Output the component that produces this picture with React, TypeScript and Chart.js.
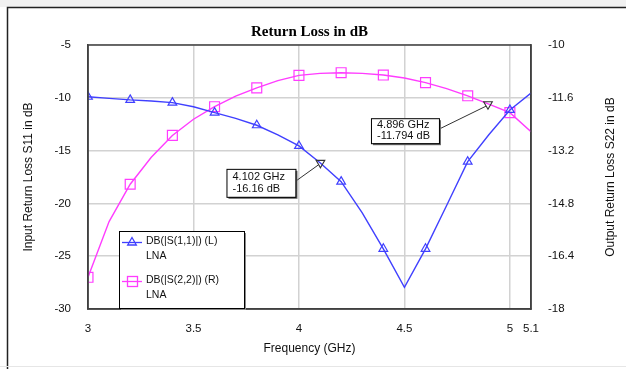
import React, { useEffect, useRef } from "react";
import { Chart, registerables } from "chart.js";

Chart.register(...registerables);

// ---------------- data ----------------
const freqGHz = [3.0, 3.1, 3.2, 3.3, 3.4, 3.5, 3.6, 3.7, 3.8, 3.9, 4.0, 4.1, 4.2, 4.3, 4.4, 4.5, 4.6, 4.7, 4.8, 4.9, 5.0, 5.1];
const s11dB = [-9.9, -10.05, -10.2, -10.3, -10.46, -10.85, -11.4, -11.95, -12.6, -13.5, -14.56, -16.15, -17.94, -20.9, -24.3, -27.95, -24.3, -20.2, -16.05, -13.5, -11.15, -9.55];
const s22dB = [-17.04, -15.35, -14.22, -13.4, -12.74, -12.25, -11.87, -11.55, -11.3, -11.08, -10.92, -10.86, -10.84, -10.86, -10.91, -11.0, -11.14, -11.32, -11.54, -11.79, -12.05, -12.63];
const xTickValues = [3, 3.5, 4, 4.5, 5, 5.1];
const leftTickValues = [-30, -25, -20, -15, -10, -5];
const rightTickValues = [-18, -16.4, -14.8, -13.2, -11.6, -10];
const seriesNames = ["DB(|S(1,1)|) (L)", "DB(|S(2,2)|) (R)"];
const seriesSub = ["LNA", "LNA"];
const markerFreqs = [4.102, 4.896];
const markerValues = [-16.16, -11.794];
const markerAxes = ["yL", "yR"];
const markerLabels = [["4.102 GHz", "-16.16 dB"], ["4.896 GHz", "-11.794 dB"]];

const titleText = "Return Loss in dB";
const xTitle = "Frequency (GHz)";
const yLeftTitle = "Input Return Loss S11 in dB";
const yRightTitle = "Output Return Loss S22 in dB";

// ---------------- styles ----------------
const BLUE = "#4040ff";
const MAGENTA = "#ff3cff";
const GRID = "#d2d2d2";
const FRAME = "#404040";
const SANS = '"Liberation Sans", Arial, sans-serif';
const SERIF = '"Liberation Serif", "Times New Roman", serif';

// box layout relative to the marker point: dx, dy, w, h
const boxLayout = [
  [-94, 6, 69, 28],
  [-117, 14, 68, 25],
];

const isMarker = (f: number) => Math.round(f * 10) % 2 === 0 && f < 5.05;

function drawTri(ctx: CanvasRenderingContext2D, x: number, y: number, r: number, down: boolean) {
  const h = r * 1.5;
  const half = r * 0.866;
  ctx.beginPath();
  if (!down) {
    ctx.moveTo(x, y - r);
    ctx.lineTo(x + half, y - r + h);
    ctx.lineTo(x - half, y - r + h);
  } else {
    ctx.moveTo(x, y + r);
    ctx.lineTo(x + half, y + r - h);
    ctx.lineTo(x - half, y + r - h);
  }
  ctx.closePath();
  ctx.stroke();
}

const overlay = {
  id: "overlay",
  beforeDraw(chart: any) {
    const { ctx, width, height } = chart;
    ctx.save();
    ctx.fillStyle = "#ffffff";
    ctx.fillRect(0, 0, width, height);
    ctx.fillStyle = "#f1f1f1";
    ctx.fillRect(0, 0, width, 7);
    ctx.restore();
  },
  afterDraw(chart: any) {
    const { ctx, chartArea: a, scales, width, height } = chart;
    ctx.save();

    // outer frame
    ctx.strokeStyle = "#222";
    ctx.lineWidth = 1.5;
    ctx.beginPath();
    ctx.moveTo(7.5, height);
    ctx.lineTo(7.5, 7.5);
    ctx.lineTo(width, 7.5);
    ctx.stroke();
    ctx.strokeStyle = "#e6e6e6";
    ctx.lineWidth = 1;
    ctx.beginPath();
    ctx.moveTo(0, height - 2.5);
    ctx.lineTo(width, height - 2.5);
    ctx.stroke();

    // plot frame
    ctx.strokeStyle = FRAME;
    ctx.lineWidth = 1.5;
    ctx.strokeRect(a.left, a.top, a.right - a.left, a.bottom - a.top);

    // title
    ctx.fillStyle = "#000";
    ctx.font = `bold 15px ${SERIF}`;
    ctx.textAlign = "center";
    ctx.textBaseline = "middle";
    ctx.fillText(titleText, (a.left + a.right) / 2, 32);

    // axis titles
    ctx.font = `12px ${SANS}`;
    ctx.fillStyle = "#111";
    ctx.fillText(xTitle, (a.left + a.right) / 2, 349);
    const midY = (a.top + a.bottom) / 2;
    ctx.save();
    ctx.translate(28.5, midY);
    ctx.rotate(-Math.PI / 2);
    ctx.fillText(yLeftTitle, 0, 0);
    ctx.restore();
    ctx.save();
    ctx.translate(611, midY);
    ctx.rotate(-Math.PI / 2);
    ctx.fillText(yRightTitle, 0, 0);
    ctx.restore();

    // legend
    const lx = a.left + 31;
    const ly = a.top + 186;
    const lw = 125;
    const lh = 77;
    ctx.fillStyle = "#8a8a8a";
    ctx.fillRect(lx + 2, ly + 2, lw, lh);
    ctx.fillStyle = "#fff";
    ctx.fillRect(lx, ly, lw, lh);
    ctx.strokeStyle = "#000";
    ctx.lineWidth = 1;
    ctx.strokeRect(lx + 0.5, ly + 0.5, lw, lh);
    const rows = [11.5, 50.5];
    const colors = [BLUE, MAGENTA];
    rows.forEach((ry, i) => {
      const y = ly + ry;
      ctx.strokeStyle = colors[i];
      ctx.lineWidth = 1.3;
      ctx.beginPath();
      ctx.moveTo(lx + 3, y);
      ctx.lineTo(lx + 23, y);
      ctx.stroke();
      if (i === 0) {
        drawTri(ctx, lx + 13, y, 5, false);
      } else {
        ctx.strokeRect(lx + 8.5, y - 5, 10, 10);
      }
      ctx.fillStyle = "#111";
      ctx.font = `10.5px ${SANS}`;
      ctx.textAlign = "left";
      ctx.textBaseline = "middle";
      ctx.fillText(seriesNames[i], lx + 27, y - 1);
      ctx.fillText(seriesSub[i], lx + 27, y + 14);
    });

    // marker annotations
    markerFreqs.forEach((f, i) => {
      const px = scales.x.getPixelForValue(f);
      const py = scales[markerAxes[i]].getPixelForValue(markerValues[i]);
      const [dx, dy, w, h] = boxLayout[i];
      const bx = px + dx;
      const by = py + dy;
      // connector
      ctx.strokeStyle = "#333";
      ctx.lineWidth = 1;
      ctx.beginPath();
      ctx.moveTo(bx + w + 1, by + h * 0.42);
      ctx.lineTo(px - 2, py + 2);
      ctx.stroke();
      // marker
      ctx.strokeStyle = "#333";
      ctx.lineWidth = 1.1;
      drawTri(ctx, px, py, 5, true);
      // box
      ctx.fillStyle = "#6a6a6a";
      ctx.fillRect(bx + 2, by + 2, w, h);
      ctx.fillStyle = "#fff";
      ctx.fillRect(bx, by, w, h);
      ctx.strokeStyle = "#000";
      ctx.lineWidth = 1;
      ctx.strokeRect(bx + 0.5, by + 0.5, w, h);
      ctx.fillStyle = "#111";
      ctx.font = `11px ${SANS}`;
      ctx.textAlign = "left";
      ctx.textBaseline = "middle";
      ctx.fillText(markerLabels[i][0], bx + 6, by + h * 0.28);
      ctx.fillText(markerLabels[i][1], bx + 6, by + h * 0.73);
    });

    ctx.restore();
  },
};

export default function App() {
  const ref = useRef<HTMLCanvasElement | null>(null);

  useEffect(() => {
    if (!ref.current) return;
    const s11 = freqGHz.map((f, i) => ({ x: f, y: s11dB[i] }));
    const s22 = freqGHz.map((f, i) => ({ x: f, y: s22dB[i] }));
    const chart = new Chart(ref.current, {
      type: "line",
      data: {
        datasets: [
          {
            label: seriesNames[0],
            data: s11,
            yAxisID: "yL",
            borderColor: BLUE,
            borderWidth: 1.4,
            backgroundColor: "rgba(0,0,0,0)",
            pointStyle: "triangle",
            pointRadius: (c: any) => (isMarker(freqGHz[c.dataIndex]) ? 5 : 0),
            pointBorderColor: BLUE,
            pointBorderWidth: 1.2,
            pointBackgroundColor: "rgba(0,0,0,0)",
            tension: 0,
          },
          {
            label: seriesNames[1],
            data: s22,
            yAxisID: "yR",
            borderColor: MAGENTA,
            borderWidth: 1.4,
            backgroundColor: "rgba(0,0,0,0)",
            pointStyle: "rect",
            pointRadius: (c: any) => (isMarker(freqGHz[c.dataIndex]) ? 7 : 0),
            pointBorderColor: MAGENTA,
            pointBorderWidth: 1.2,
            pointBackgroundColor: "rgba(0,0,0,0)",
            tension: 0,
          },
        ],
      },
      options: {
        animation: false,
        responsive: false,
        devicePixelRatio: 1,
        layout: { padding: { top: 45, left: 0, right: 0, bottom: 0 } },
        plugins: {
          legend: { display: false },
          title: { display: false },
          tooltip: { enabled: false },
        },
        scales: {
          x: {
            type: "linear",
            min: 3,
            max: 5.1,
            afterBuildTicks: (s: any) => {
              s.ticks = xTickValues.map((v) => ({ value: v }));
            },
            afterFit: (s: any) => {
              s.height = 60;
            },
            ticks: {
              autoSkip: false,
              maxRotation: 0,
              padding: 13,
              color: "#111",
              font: { family: SANS, size: 11.5 },
              callback: (v: any) => String(v),
            },
            grid: { color: GRID, lineWidth: 1.5, drawTicks: false },
            border: { display: true, color: FRAME, width: 1.5 },
          },
          yL: {
            type: "linear",
            position: "left",
            min: -30,
            max: -5,
            afterBuildTicks: (s: any) => {
              s.ticks = leftTickValues.map((v) => ({ value: v }));
            },
            afterFit: (s: any) => {
              s.width = 88;
            },
            ticks: {
              padding: 17,
              color: "#111",
              font: { family: SANS, size: 11.5 },
              callback: (v: any) => String(v),
            },
            grid: { color: GRID, lineWidth: 1.5, drawTicks: false },
            border: { display: true, color: FRAME, width: 1.5 },
          },
          yR: {
            type: "linear",
            position: "right",
            min: -18,
            max: -10,
            afterBuildTicks: (s: any) => {
              s.ticks = rightTickValues.map((v) => ({ value: v }));
            },
            afterFit: (s: any) => {
              s.width = 95;
            },
            ticks: {
              padding: 17,
              color: "#111",
              font: { family: SANS, size: 11.5 },
              callback: (v: any) => (Number.isInteger(v) ? String(v) : Number(v).toFixed(1)),
            },
            grid: { display: false, drawTicks: false },
            border: { display: true, color: FRAME, width: 1.5 },
          },
        },
      },
      plugins: [overlay],
    } as any);
    return () => chart.destroy();
  }, []);

  return (
    <div style={{ position: "fixed", left: 0, top: 0, width: 626, height: 369, background: "#fff" }}>
      <canvas ref={ref} width={626} height={369} style={{ display: "block" }} />
    </div>
  );
}
